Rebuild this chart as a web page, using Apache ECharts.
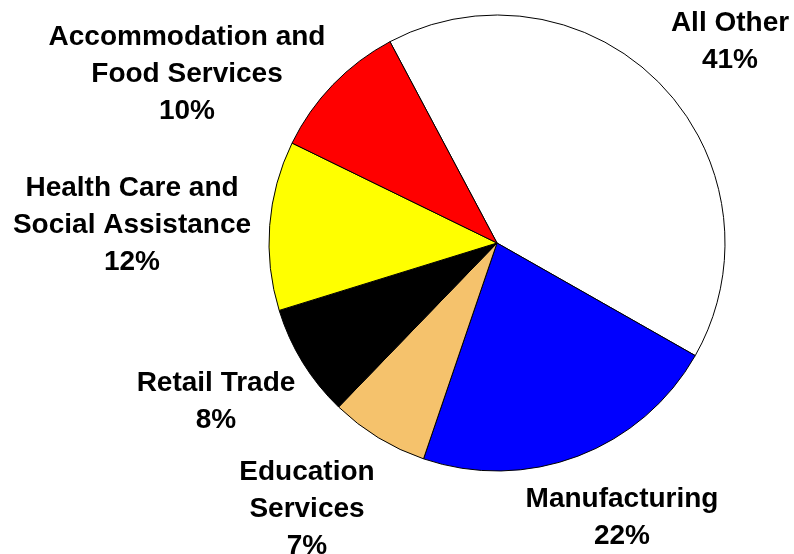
<!DOCTYPE html>
<html>
<head>
<meta charset="utf-8">
<script src="https://cdn.jsdelivr.net/npm/echarts@6/dist/echarts.min.js"></script>
<style>
  html, body { margin: 0; padding: 0; background: #fff; }
  #chart { width: 794px; height: 554px; }
</style>
</head>
<body>
<div id="chart"></div>
<script>
var categories = ['All Other', 'Manufacturing', 'Education\nServices', 'Retail Trade',
    'Health Care and\nSocial Assistance', 'Accommodation and\nFood Services'];
var shares = [41, 22, 7, 8, 12, 10];
var sliceColors = ['#ffffff', '#0000ff', '#f5c26c', '#000000', '#ffff00', '#ff0000'];
// label centres (text only, slices are laid out by the pie series)
var labelPos = [[730, 42], [622, 518], [307, 509], [216, 402], [132, 225], [187, 74]];

var myChart = echarts.init(document.getElementById('chart'));
var option = {
    animation: false,
    series: [{
        type: 'pie',
        center: [497, 243],
        radius: 228,
        startAngle: 118,
        clockwise: true,
        data: categories.map(function (name, i) {
            return {name: name, value: shares[i], itemStyle: {color: sliceColors[i]}};
        }),
        itemStyle: {borderColor: '#000', borderWidth: 1},
        label: {
            show: true,
            position: 'outside',
            formatter: '{b}\n{c}%',
            fontFamily: 'Liberation Sans, Arial, sans-serif',
            fontWeight: 'bold',
            fontSize: 28,
            lineHeight: 37,
            color: '#000',
            align: 'center',
            overflow: 'none',
            width: 400
        },
        labelLine: {show: false},
        labelLayout: function (params) {
            var p = labelPos[params.dataIndex];
            return {x: p[0], y: p[1], align: 'center', verticalAlign: 'middle'};
        },
        emphasis: {disabled: true}
    }]
};
option && myChart.setOption(option);
</script>
</body>
</html>
